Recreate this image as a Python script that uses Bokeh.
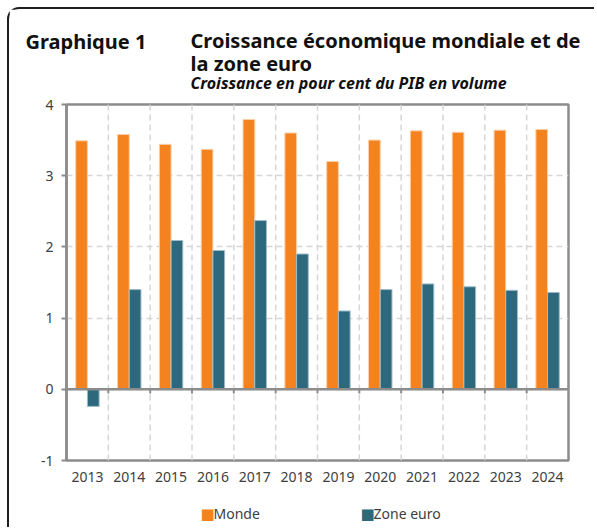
from bokeh.plotting import figure
from bokeh.models import (FactorRange, FixedTicker, Span, Title,
                          ColumnDataSource)
from bokeh.transform import dodge
from bokeh.embed import file_html
from bokeh.resources import INLINE

years = ["2013", "2014", "2015", "2016", "2017", "2018",
         "2019", "2020", "2021", "2022", "2023", "2024"]
monde = [3.49, 3.58, 3.44, 3.37, 3.79, 3.60, 3.20, 3.50, 3.63, 3.61, 3.64, 3.65]
zone_euro = [-0.24, 1.40, 2.09, 1.95, 2.37, 1.90, 1.10, 1.40, 1.48, 1.44, 1.39, 1.36]
y_ticks = [-1, 0, 1, 2, 3, 4]
y_tick_labels = {-1: "-1", 0: "0", 1: "1", 2: "2", 3: "3", 4: "4"}
series_names = ["Monde", "Zone euro"]

title_left = "Graphique 1"
title_main = "Croissance économique mondiale et de\nla zone euro"
subtitle = "Croissance en pour cent du PIB en volume"

FONT = "Noto Sans"
ORANGE = "#F4831F"
BLUE = "#2D687C"
AXIS_GREY = "#8c8c8c"
GRID_GREY = "#d6d6d6"
TEXT = "#404040"

W, H = 587, 520
p = figure(x_range=FactorRange(*years, range_padding=0), y_range=(-1, 4),
           width=W, height=H, output_backend="svg", toolbar_location=None,
           min_border_left=57, min_border_right=28, min_border_top=95,
           min_border_bottom=69, margin=(7, 0, 0, 7),
           styles={"border-top": "2px solid #1e1e1e",
                   "border-left": "2px solid #1e1e1e",
                   "border-top-left-radius": "12px"})
p.title.visible = False
p.outline_line_color = AXIS_GREY
p.outline_line_width = 2.5

src = ColumnDataSource(dict(year=years, monde=monde, zone=zone_euro))
bsrc = ColumnDataSource(dict(year=years[:-1]))

p.segment(x0=dodge("year", 0.5, range=p.x_range), y0=-1,
          x1=dodge("year", 0.5, range=p.x_range), y1=4, source=bsrc,
          line_color=GRID_GREY, line_width=1.5, line_dash="6 4")

p.vbar(x=dodge("year", -0.14, range=p.x_range), top="monde", width=0.28,
       source=src, fill_color=ORANGE, line_color="#fbd0a8", line_width=1)
p.vbar(x=dodge("year", 0.14, range=p.x_range), top="zone", width=0.28,
       source=src, fill_color=BLUE, line_color="#9dbcc8", line_width=1)

p.add_layout(Span(location=0, dimension="width", line_color=AXIS_GREY,
                  line_width=2.5))
p.segment(x0=dodge("year", 0.5, range=p.x_range), y0=0,
          x1=dodge("year", 0.5, range=p.x_range), y1=-0.06, source=bsrc,
          line_color=AXIS_GREY, line_width=2)

p.xgrid.grid_line_color = None
p.ygrid.grid_line_color = GRID_GREY
p.ygrid.grid_line_width = 1.5
p.ygrid.grid_line_dash = "6 4"

p.yaxis.ticker = FixedTicker(ticks=y_ticks)
p.yaxis.major_label_overrides = y_tick_labels
p.yaxis.minor_tick_line_color = None
p.yaxis.axis_line_color = AXIS_GREY
p.yaxis.axis_line_width = 2.5
p.yaxis.major_tick_line_color = AXIS_GREY
p.yaxis.major_tick_line_width = 2
p.yaxis.major_tick_in = 0
p.yaxis.major_tick_out = 5
p.yaxis.major_label_standoff = 8

p.xaxis.axis_line_color = None
p.xaxis.major_tick_line_color = None
p.xaxis.major_tick_in = 0
p.xaxis.major_tick_out = 0
p.xaxis.major_label_standoff = 11

for ax in (p.xaxis[0], p.yaxis[0]):
    ax.major_label_text_font = FONT
    ax.major_label_text_font_size = "14px"
    ax.major_label_text_color = TEXT

# ---- titles in the above panel (first added sits nearest the frame) ----
p.add_layout(Title(text=subtitle, align="left", offset=124, standoff=22,
                   text_font=FONT, text_font_size="16px",
                   text_font_style="bold italic", text_color="#111111"),
             "above")
p.add_layout(Title(text=title_main, align="left", offset=124, standoff=-37,
                   text_font=FONT, text_font_size="20px",
                   text_font_style="bold", text_color="#111111",
                   text_line_height=0.85),
             "above")
p.add_layout(Title(text=title_left, align="left", offset=-41, standoff=-22,
                   text_font=FONT, text_font_size="20px",
                   text_font_style="bold", text_color="#111111"),
             "above")

# ---- legend row in the below panel ----
p.add_layout(Title(text=" ", standoff=8, text_font=FONT,
                   text_font_size="14px"), "below")

def leg(txt, off, color, font, size):
    p.add_layout(Title(text=txt, align="left", offset=off,
                       vertical_align="middle", standoff=-22,
                       text_font=font, text_font_size=size,
                       text_font_style="normal", text_color=color), "below")

leg("\u25A0", 134, ORANGE, "DejaVu Sans", "15px")
leg(series_names[0], 147, TEXT, FONT, "14px")
leg("\u25A0", 294, BLUE, "DejaVu Sans", "15px")
leg(series_names[1], 307, TEXT, FONT, "14px")

open("out.html", "w").write(file_html(p, INLINE))
